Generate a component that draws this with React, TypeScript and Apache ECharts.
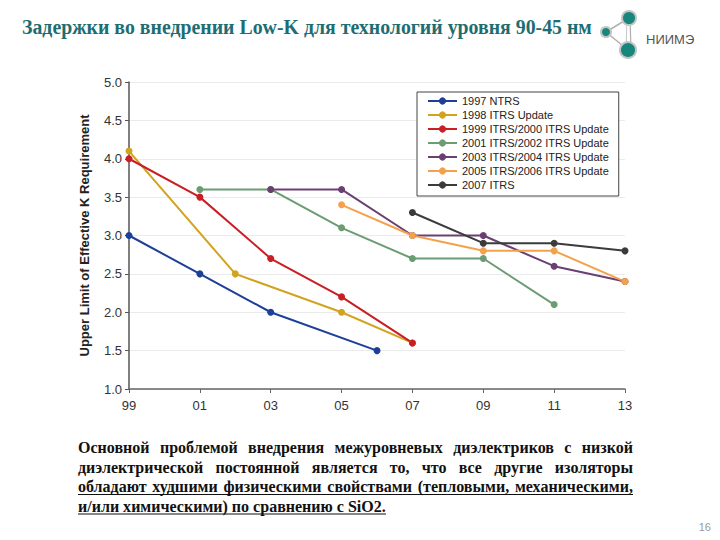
import React, { useEffect, useRef } from "react";
import * as echarts from "echarts";

const years = ["1999","2000","2001","2002","2003","2004","2005","2006","2007","2008","2009","2010","2011","2012","2013"];
const seriesNames = [
  "1997 NTRS",
  "1998 ITRS Update",
  "1999 ITRS/2000 ITRS Update",
  "2001 ITRS/2002 ITRS Update",
  "2003 ITRS/2004 ITRS Update",
  "2005 ITRS/2006 ITRS Update",
  "2007 ITRS",
];
const seriesColors = ["#1d3f98", "#d2a31f", "#c81e24", "#6b9c72", "#6a3f72", "#f4a14b", "#3b3b3b"];
const ntrs1997: [string, number][] = [["1999", 3.0], ["2001", 2.5], ["2003", 2.0], ["2006", 1.5]];
const itrs1998: [string, number][] = [["1999", 4.1], ["2002", 2.5], ["2005", 2.0], ["2007", 1.6]];
const itrs1999: [string, number][] = [["1999", 4.0], ["2001", 3.5], ["2003", 2.7], ["2005", 2.2], ["2007", 1.6]];
const itrs2001: [string, number][] = [["2001", 3.6], ["2003", 3.6], ["2005", 3.1], ["2007", 2.7], ["2009", 2.7], ["2011", 2.1]];
const itrs2003: [string, number][] = [["2003", 3.6], ["2005", 3.6], ["2007", 3.0], ["2009", 3.0], ["2011", 2.6], ["2013", 2.4]];
const itrs2005: [string, number][] = [["2005", 3.4], ["2007", 3.0], ["2009", 2.8], ["2011", 2.8], ["2013", 2.4]];
const itrs2007: [string, number][] = [["2007", 3.3], ["2009", 2.9], ["2011", 2.9], ["2013", 2.8]];
const allSeries = [ntrs1997, itrs1998, itrs1999, itrs2001, itrs2003, itrs2005, itrs2007];

const titleText = "Задержки во внедрении Low-K для технологий уровня 90-45 нм";
const yAxisTitle = "Upper Limit of Effective K Requirement";
const bodyLines = [
  "Основной проблемой внедрения межуровневых диэлектриков с низкой",
  "диэлектрической постоянной является то, что все другие изоляторы",
  "обладают худшими физическими свойствами (тепловыми, механическими,",
  "и/или химическими) по сравнению с SiO2.",
];
const logoText = "НИИМЭ";
const pageNumber = "16";

function measure(text: string, font: string): number {
  const c = document.createElement("canvas");
  const ctx = c.getContext("2d")!;
  ctx.font = font;
  return ctx.measureText(text).width;
}

export default function App() {
  const ref = useRef<HTMLDivElement>(null);
  useEffect(() => {
    if (!ref.current) return;
    const chart = echarts.init(ref.current, undefined, { renderer: "svg" });

    const serif = '"Liberation Serif", "Times New Roman", serif';
    const sans = '"Liberation Sans", Arial, sans-serif';
    // Title
    const titleSize = 20;
    const titleW = measure(titleText, `bold ${titleSize}px ${serif}`);
    const titleScale = 570 / titleW;

    // Body
    const bodySize = 16;
    const bodyFont = `bold ${bodySize}px ${serif}`;
    const lastW = measure(bodyLines[3], bodyFont);
    const bodyScale = 308 / lastW;
    const left = 78, right = 633;
    const rowY = [448, 467.5, 487, 506.5];
    const bodyGraphics: any[] = [];
    bodyLines.forEach((line, i) => {
      if (i < 3) {
        const words = line.split(" ");
        const widths = words.map((w) => measure(w, bodyFont) * bodyScale);
        const total = widths.reduce((a, b) => a + b, 0);
        const gap = (right - left - total) / (words.length - 1);
        let x = left;
        words.forEach((w, k) => {
          bodyGraphics.push({
            type: "text", x, y: rowY[i], scaleX: bodyScale,
            style: { text: w, font: bodyFont, fill: "#111", verticalAlign: "middle" },
          });
          x += widths[k] + gap;
        });
      } else {
        bodyGraphics.push({
          type: "text", x: left, y: rowY[i], scaleX: bodyScale,
          style: { text: line, font: bodyFont, fill: "#111", verticalAlign: "middle" },
        });
      }
    });
    bodyGraphics.push({ type: "line", shape: { x1: left, y1: 494.5, x2: right, y2: 494.5 }, style: { stroke: "#111", lineWidth: 1.2 } });
    bodyGraphics.push({ type: "line", shape: { x1: left, y1: 514, x2: left + 308, y2: 514 }, style: { stroke: "#111", lineWidth: 1.2 } });

    const logo: any[] = [
      { type: "line", shape: { x1: 606, y1: 32, x2: 629, y2: 18 }, style: { stroke: "#b0b0b0", lineWidth: 1.5 } },
      { type: "line", shape: { x1: 606, y1: 32, x2: 628, y2: 50 }, style: { stroke: "#b0b0b0", lineWidth: 1.5 } },
      { type: "line", shape: { x1: 630, y1: 18, x2: 631, y2: 50 }, style: { stroke: "#b0b0b0", lineWidth: 1.2 } },
      { type: "line", shape: { x1: 627, y1: 18, x2: 626, y2: 50 }, style: { stroke: "#c8c8c8", lineWidth: 1 } },
      { type: "circle", shape: { cx: 606, cy: 32, r: 5 }, style: { fill: "#17877d", stroke: "#c4c4c4", lineWidth: 2 } },
      { type: "circle", shape: { cx: 629, cy: 18, r: 7 }, style: { fill: "#17877d", stroke: "#c4c4c4", lineWidth: 2 } },
      { type: "circle", shape: { cx: 628, cy: 50, r: 8 }, style: { fill: "#17877d", stroke: "#c4c4c4", lineWidth: 2 } },
      { type: "text", x: 646, y: 39, style: { text: logoText, font: `13px ${sans}`, fill: "#555", verticalAlign: "middle" } },
    ];

    chart.setOption({
      animation: false,
      backgroundColor: "#ffffff",
      graphic: [
        {
          type: "text", x: 22, y: 27, scaleX: titleScale,
          style: { text: titleText, font: `bold ${titleSize}px ${serif}`, fill: "#1e6d72", verticalAlign: "middle" },
        },
        ...logo,
        ...bodyGraphics,
        { type: "text", x: 711, y: 527, style: { text: pageNumber, font: `11px ${sans}`, fill: "#999", align: "right", verticalAlign: "middle" } },
      ],
      grid: { left: 129, right: 95, top: 82, bottom: 151, containLabel: false },
      legend: {
        orient: "vertical",
        left: 417,
        top: 92,
        data: seriesNames,
        backgroundColor: "#fff",
        borderColor: "#444",
        borderWidth: 1,
        padding: [3, 10, 5, 10],
        itemWidth: 29,
        itemHeight: 9,
        itemGap: 2,
        itemTextGap: 2,
        textStyle: { fontSize: 11, color: "#222", fontFamily: sans, lineHeight: 12 },
      },
      xAxis: {
        type: "category",
        data: years,
        boundaryGap: false,
        axisLine: { lineStyle: { color: "#666", width: 1.5 } },
        axisTick: { interval: 1, length: 4, lineStyle: { color: "#666" } },
        axisLabel: {
          interval: 1,
          margin: 10,
          fontSize: 13,
          color: "#333",
          fontFamily: sans,
          formatter: (v: string) => v.slice(2),
        },
        splitLine: { show: false },
      },
      yAxis: {
        type: "value",
        min: 1,
        max: 5,
        interval: 0.5,
        name: yAxisTitle,
        nameLocation: "middle",
        nameGap: 38,
        nameTextStyle: { fontSize: 13, fontWeight: "bold", color: "#222", fontFamily: sans },
        axisLine: { show: true, lineStyle: { color: "#555", width: 1.5 } },
        axisTick: { show: true, length: 4, lineStyle: { color: "#555" } },
        axisLabel: {
          fontSize: 13,
          color: "#333",
          margin: 7,
          fontFamily: sans,
          formatter: (v: number) => v.toFixed(1),
        },
        splitLine: { lineStyle: { color: "#ebebeb", width: 1 } },
      },
      series: allSeries.map((d, i) => ({
        name: seriesNames[i],
        type: "line",
        data: d,
        symbol: "circle",
        symbolSize: 7,
        lineStyle: { color: seriesColors[i], width: 2 },
        itemStyle: { color: seriesColors[i] },
      })),
    });
    return () => chart.dispose();
  }, []);
  return <div ref={ref} style={{ position: "fixed", left: 0, top: 0, width: 720, height: 540 }} />;
}
